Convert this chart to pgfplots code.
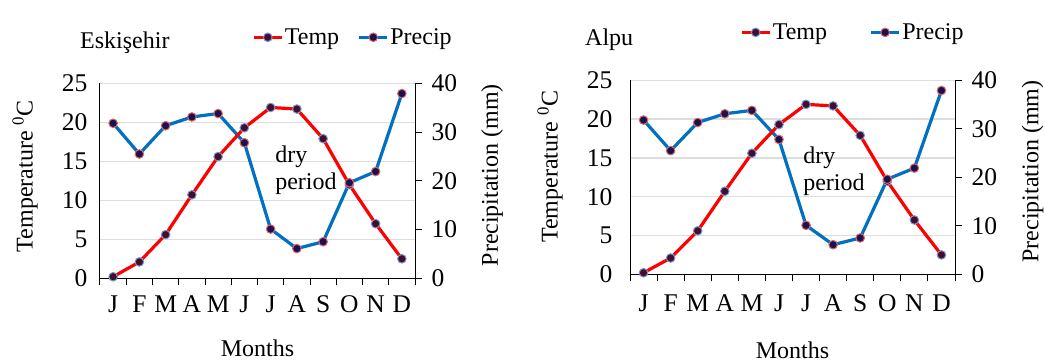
\documentclass[border=0pt]{standalone}
\usepackage{fontspec}
\setmainfont{Liberation Serif}
\usepackage{pgfplots}
\usepackage{pgfplotstable}
\pgfplotsset{compat=1.18}
\definecolor{tred}{HTML}{FF0000}
\definecolor{pblue}{HTML}{0070C0}
\definecolor{tfill}{HTML}{4A0A2A}
\definecolor{tring}{HTML}{6E9BD6}
\definecolor{pfill}{HTML}{1A1250}
\definecolor{pring}{HTML}{E06666}
\definecolor{gridgray}{HTML}{DDDDDD}

\pgfplotstableread{
m temp precip
1 0.2 31.8
2 2.1 25.5
3 5.6 31.3
4 10.7 33.1
5 15.6 33.8
6 19.3 27.8
7 21.9 10.1
8 21.7 6.1
9 17.9 7.5
10 12.0 19.6
11 7.0 21.9
12 2.5 37.9
}\climate

\newcommand{\bigfont}{\fontsize{24}{27}\selectfont}
\newcommand{\tickfont}{\fontsize{25.5}{28}\selectfont}

\pgfplotsset{
  cbase/.style={scale only axis, anchor=south west, xmin=0.5, xmax=12.5,
    /pgf/number format/assume math mode=true, font=\bigfont,
    ticklabel style={font=\tickfont}},
  tscale/.style={ymin=0, ymax=25},
  pscale/.style={ymin=0, ymax=40},
  hidden/.style={hide x axis, hide y axis, clip=false},
  tline/.style={draw=tred, line width=3.2pt, mark=*, mark size=4.3pt,
    mark options={fill=tfill, draw=tring, line width=1pt, solid}},
  pline/.style={draw=pblue, line width=3.2pt, mark=none},
  pmark/.style={only marks, mark=*, mark size=4.3pt,
    mark options={fill=pfill, draw=pring, line width=1pt, solid}},
  plinemark/.style={draw=pblue, line width=3.2pt, mark=*, mark size=4.3pt,
    mark options={fill=pfill, draw=pring, line width=1pt, solid}},
  frameaxis/.style={cbase, tscale,
    axis x line*=bottom, axis y line*=left,
    axis line style={black, line width=1pt},
    xtick={1,...,12}, xticklabels={J,F,M,A,M,J,J,A,S,O,N,D},
    minor xtick={0.5,1.5,...,12.5},
    tick align=outside, major tick length=0pt, minor tick length=7pt,
    tick style={black, line width=1pt},
    ytick={0,5,...,25}, ymajorgrids,
    grid style={draw=gridgray, line width=1.3pt}},
  rightaxis/.style={cbase, pscale,
    axis x line=none, axis y line*=right,
    axis line style={black, line width=1pt},
    ytick={0,10,...,40}, tick align=outside, major tick length=7pt,
    tick style={black, line width=1pt}},
  legaxis/.style={cbase, pscale, hidden,
    legend columns=2,
    legend image code/.code={%
      \draw[##1, mark=none] (0pt,0pt) -- (28pt,0pt);
      \draw[##1, only marks] plot coordinates {(14pt,0pt)};},
    legend style={draw=none, fill=none, anchor=west, inner sep=0pt,
      nodes={inner sep=1.5pt, font=\bigfont}}},
}

\begin{document}
\begin{tikzpicture}
\path[use as bounding box] (0pt,0pt) rectangle (1045pt,-362pt);

% ================= Left chart: Eskisehir =================
\begin{axis}[frameaxis, at={(100pt,-278.3pt)}, width=315pt, height=195pt,
  xticklabel style={yshift=-14pt}, yticklabel style={xshift=-9pt},
  xlabel={Months}, xlabel style={at={([yshift=-78.5pt]rel axis cs:0.5,0)}, anchor=base},
  ylabel={Temperature \textsuperscript{0}C},
  ylabel style={at={([xshift=-75pt]rel axis cs:0,0.523)}, anchor=center}]
\node[align=left, anchor=west, inner sep=0pt, font=\bigfont] at (axis cs:7.17,13.9) {dry\\period};
\end{axis}
\begin{axis}[rightaxis, at={(100pt,-278.3pt)}, width=315pt, height=195pt,
  yticklabel style={xshift=6pt},
  ylabel={Precipitation (mm)},
  ylabel style={at={([xshift=77pt]rel axis cs:1,0.528)}, anchor=center}]
\addplot[pline] table[x=m, y=precip] {\climate};
\end{axis}
\begin{axis}[cbase, tscale, hidden, at={(100pt,-278.3pt)}, width=315pt, height=195pt]
\addplot[tline] table[x=m, y=temp] {\climate};
\end{axis}
\begin{axis}[legaxis, at={(100pt,-278.3pt)}, width=315pt, height=195pt,
  legend style={at={(rel axis cs:0.4825,1.236)},
    /tikz/every even column/.append style={column sep=17pt}}]
\addlegendimage{tline}\addlegendentry{Temp}
\addplot[pmark, forget plot] table[x=m, y=precip] {\climate};
\addlegendimage{plinemark}\addlegendentry{Precip}
\end{axis}
\node[anchor=base west, inner sep=0pt, font=\bigfont] at (80pt,-48.3pt) {Eskişehir};

% ================= Right chart: Alpu =================
\begin{axis}[frameaxis, at={(630pt,-274.3pt)}, width=325pt, height=194pt,
  xticklabel style={yshift=-17pt}, yticklabel style={xshift=-14pt},
  xlabel={Months}, xlabel style={at={([yshift=-84pt]rel axis cs:0.5,0)}, anchor=base},
  ylabel={Temperature \textsuperscript{0}C},
  ylabel style={at={([xshift=-80pt]rel axis cs:0,0.554)}, anchor=center}]
\node[align=left, anchor=west, inner sep=0pt, font=\bigfont] at (axis cs:6.89,13.3) {dry\\period};
\end{axis}
\begin{axis}[rightaxis, at={(630pt,-274.3pt)}, width=325pt, height=194pt,
  yticklabel style={xshift=6pt},
  ylabel={Precipitation (mm)},
  ylabel style={at={([xshift=77.5pt]rel axis cs:1,0.53)}, anchor=center}]
\addplot[pline] table[x=m, y=precip] {\climate};
\end{axis}
\begin{axis}[cbase, tscale, hidden, at={(630pt,-274.3pt)}, width=325pt, height=194pt]
\addplot[tline] table[x=m, y=temp] {\climate};
\end{axis}
\begin{axis}[legaxis, at={(630pt,-274.3pt)}, width=325pt, height=194pt,
  legend style={at={(rel axis cs:0.338,1.247)},
    /tikz/every even column/.append style={column sep=41pt}}]
\addlegendimage{tline}\addlegendentry{Temp}
\addplot[pmark, forget plot] table[x=m, y=precip] {\climate};
\addlegendimage{plinemark}\addlegendentry{Precip}
\end{axis}
\node[anchor=base west, inner sep=0pt, font=\bigfont] at (585pt,-45pt) {Alpu};
\end{tikzpicture}
\end{document}
